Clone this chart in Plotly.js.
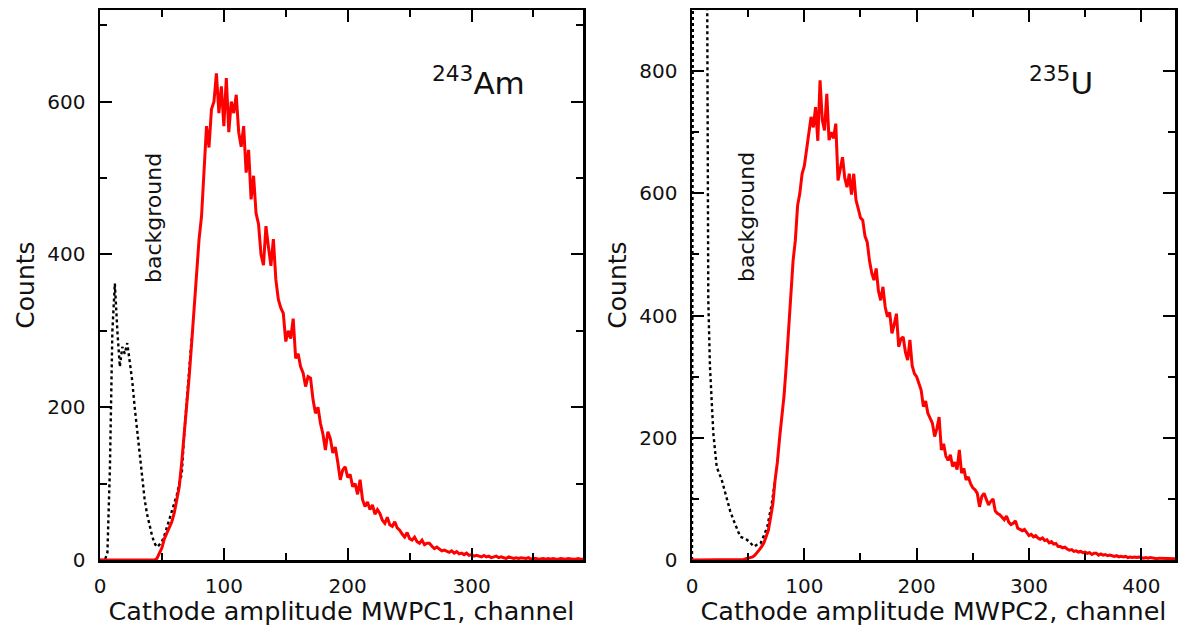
<!DOCTYPE html>
<html>
<head>
<meta charset="utf-8">
<script src="https://cdn.plot.ly/plotly-3.0.1.min.js"></script>
<style>
  html, body { margin: 0; padding: 0; background: #fff; }
  #chart { width: 1182px; height: 626px; }
</style>
</head>
<body>
<div id="chart"></div>
<script>
// ---------- DATA ----------
// Histogram channels: red spectra are sampled every 2 channels starting at channel 0
const channelStep = 2;

// 243Am, MWPC1 (red)
const am_counts = [
  0,0,0,0,0,0,0,0,0,0,0,0,0,0,0,0,0,0,0,0,0,0,0,          // 0..44
  2,8,16,28,36,44,50,62,80,96,128,162,200,240,284,330,     // 46..76
  380,420,450,505,568,540,590,600,637,585,620,568,631,560, // 78..104
  600,585,609,560,541,568,507,537,472,503,454,440,400,386, // 106..132
  437,410,385,420,367,341,330,323,286,300,290,316,264,270, // 134..160
  253,245,227,240,238,210,192,200,179,165,144,168,159,140, // 162..188
  148,128,105,118,122,108,112,96,100,86,105,79,70,76,      // 190..216
  66,72,60,66,61,52,48,56,46,44,50,42,39,34,               // 218..244
  30,36,28,26,30,24,22,26,20,22,22,18,15,17,               // 246..272
  14,12,13,11,10,12,9,11,8,9,7,9,6,7,                      // 274..300
  5,6,5,4,6,4,5,3,4,5,3,4,3,2,                             // 302..328
  4,3,2,3,2,3,2,2,3,1,2,2,1,2,                             // 330..356
  2,1,2,1,2,1,1,2,1,1,2,1,1,1,2,1,1                        // 358..390
];

// 243Am background (black dotted)
const am_bg_channel = [0,4,6,8,10,12,14,16,18,20,22,24,26,28,30,32,34,36,38,40,42,44,46,48,50,52,54,56,58,60,62,64,66,68,70,72,74];
const am_bg_counts  = [0,0,10,120,300,362,300,253,279,270,284,262,235,200,170,135,105,80,60,44,32,22,17,20,24,32,42,52,62,74,85,100,112,165,205,245,290];

// 235U, MWPC2 (red)
const u_counts = [
  0,0,0,0,0,0,0,0,0,0,0,0,0,0,0,0,0,0,0,0,0,0,0,          // 0..44
  1,2,3,4,5,8,12,17,22,28,38,49,70,92,131,160,             // 46..76
  200,234,270,320,380,440,490,523,580,600,632,645,670,700, // 78..104
  725,708,741,686,785,720,703,763,687,700,690,714,621,640, // 106..132
  659,625,610,632,598,632,589,575,560,556,530,520,490,470, // 134..160
  458,477,440,425,447,414,398,405,371,385,403,349,362,365, // 162..188
  340,327,360,318,305,300,290,278,251,260,240,232,224,202, // 190..216
  215,234,180,190,170,163,172,153,160,148,180,142,150,131, // 218..244
  136,125,118,115,109,87,104,109,98,90,96,100,80,76,       // 246..272
  74,70,66,72,62,58,60,64,52,50,48,50,44,40,               // 274..300
  42,38,40,36,34,36,32,33,28,30,26,27,22,22,               // 302..328
  20,21,18,16,17,14,15,13,14,12,13,11,12,9,                // 330..356
  11,11,8,10,8,9,7,8,7,6,7,5,6,5,                          // 358..384
  6,4,5,4,5,4,5,4,3,4,3,4,3,3,                             // 386..412
  2,3,3,2,3,2,3,2,2                                        // 414..430
];

// 235U background (black dotted)
const u_bg_channel = [0,1,2,12,13,14.5,16,19,22,26.5,31,34,37,40,43,46,49,52,55,58,61,64,67,71,74];
const u_bg_counts  = [0,1200,2500,2500,1200,425,316,207,152,131,98,80,65,50,38,36,33,28,22,25,27,40,54,92,131];

// Labels
const xTitle1 = "Cathode amplitude MWPC1, channel";
const xTitle2 = "Cathode amplitude MWPC2, channel";
const yTitle = "Counts";
const label1 = "<sup>243</sup>Am";
const label2 = "<sup>235</sup>U";
const bgLabel = "background";

// ---------- BUILD ----------
function channels(arr) { return arr.map((_, i) => i * channelStep); }

const FONT = "DejaVu Sans, Liberation Sans, Arial, sans-serif";
const red = { color: "#ff0000", width: 3 };
const dotted = { color: "#000000", width: 2.4, dash: "dot" };

const traces = [
  { x: am_bg_channel, y: am_bg_counts, xaxis: "x", yaxis: "y", mode: "lines", line: dotted },
  { x: channels(am_counts), y: am_counts, xaxis: "x", yaxis: "y", mode: "lines", line: red },
  { x: u_bg_channel, y: u_bg_counts, xaxis: "x2", yaxis: "y2", mode: "lines", line: dotted },
  { x: channels(u_counts), y: u_counts, xaxis: "x2", yaxis: "y2", mode: "lines", line: red }
];

function axisCommon() {
  return {
    showline: true, linecolor: "#000", linewidth: 2.5, mirror: "ticks",
    ticks: "inside", ticklen: 12, tickwidth: 2, tickcolor: "#000",
    showgrid: false, zeroline: false,
    tickfont: { family: FONT, size: 20, color: "#111" },
    ticklabelstandoff: 8
  };
}

const W = 1182, H = 626;
const yDom = [(H - 560) / H, (H - 10) / H];

const layout = {
  width: W, height: H,
  margin: { l: 0, r: 0, t: 0, b: 0 },
  paper_bgcolor: "#fff", plot_bgcolor: "#fff",
  showlegend: false,
  xaxis: Object.assign(axisCommon(), {
    domain: [100 / W, 583 / W], range: [0, 390], dtick: 100, anchor: "y",
    ticklabelstandoff: 6,
    minor: { dtick: 50, ticks: "inside", ticklen: 7, tickwidth: 2, tickcolor: "#000" },
    title: { text: xTitle1, font: { family: FONT, size: 25.5, color: "#111" }, standoff: 4 }
  }),
  yaxis: Object.assign(axisCommon(), {
    domain: yDom, range: [0, 720], dtick: 200, anchor: "x",
    minor: { dtick: 100, ticks: "inside", ticklen: 7, tickwidth: 2, tickcolor: "#000" },
    title: { text: yTitle, font: { family: FONT, size: 25, color: "#111" }, standoff: 6 }
  }),
  xaxis2: Object.assign(axisCommon(), {
    domain: [692 / W, 1175 / W], range: [0, 430], dtick: 100, anchor: "y2",
    ticklabelstandoff: 6,
    minor: { dtick: 50, ticks: "inside", ticklen: 7, tickwidth: 2, tickcolor: "#000" },
    title: { text: xTitle2, font: { family: FONT, size: 25.5, color: "#111" }, standoff: 4 }
  }),
  yaxis2: Object.assign(axisCommon(), {
    domain: yDom, range: [0, 900], dtick: 200, anchor: "x2",
    minor: { dtick: 100, ticks: "inside", ticklen: 7, tickwidth: 2, tickcolor: "#000" },
    title: { text: yTitle, font: { family: FONT, size: 25, color: "#111" }, standoff: 6 }
  }),
  annotations: [
    { text: label1, xref: "paper", yref: "paper", x: 430 / W, y: (H - 103) / H,
      xanchor: "left", yanchor: "bottom", showarrow: false,
      font: { family: FONT, size: 31, color: "#111" } },
    { text: label2, xref: "paper", yref: "paper", x: 1027 / W, y: (H - 103) / H,
      xanchor: "left", yanchor: "bottom", showarrow: false,
      font: { family: FONT, size: 31, color: "#111" } },
    { text: bgLabel, xref: "paper", yref: "paper", x: 154 / W, y: (H - 218) / H,
      xanchor: "center", yanchor: "middle", textangle: -90, showarrow: false,
      font: { family: FONT, size: 22, color: "#111" } },
    { text: bgLabel, xref: "paper", yref: "paper", x: 746 / W, y: (H - 217) / H,
      xanchor: "center", yanchor: "middle", textangle: -90, showarrow: false,
      font: { family: FONT, size: 22, color: "#111" } }
  ]
};

Plotly.newPlot("chart", traces, layout, { staticPlot: true, displayModeBar: false });
</script>
</body>
</html>
